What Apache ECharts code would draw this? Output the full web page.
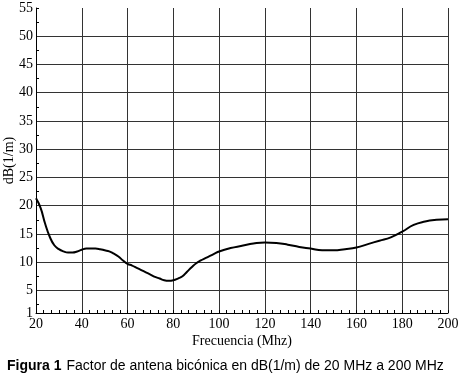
<!DOCTYPE html>
<html>
<head>
<meta charset="utf-8">
<script src="https://cdn.jsdelivr.net/npm/echarts@6/dist/echarts.min.js"></script>
<style>
  html, body { margin: 0; padding: 0; background: #fff; }
  #chart { width: 464px; height: 380px; }
</style>
</head>
<body>
<div id="chart"></div>
<script>
// Frequency (MHz) and antenna factor dB(1/m)
const freq = [20, 22, 24, 26, 28, 30, 32, 34, 36, 38, 40, 42, 44, 46, 48, 50, 52, 54, 56, 58,
  60, 62, 64, 66, 68, 70, 72, 74, 76, 78, 80, 82, 84, 86, 88, 90, 92, 94, 96, 98,
  100, 105, 110, 115, 120, 125, 130, 135, 140, 145, 150, 155, 160, 165, 170, 175, 180, 185, 190, 195, 200];
const factor = [21.3, 19.6, 16.8, 14.5, 13.0, 12.3, 11.9, 11.7, 11.7, 11.9, 12.2, 12.4, 12.4, 12.4, 12.3, 12.1, 11.9, 11.5, 11.0, 10.3,
  9.7, 9.4, 9.0, 8.6, 8.2, 7.8, 7.4, 7.1, 6.8, 6.7, 6.8, 7.1, 7.5, 8.3, 9.1, 9.8, 10.3, 10.7, 11.1, 11.5,
  11.9, 12.5, 12.9, 13.3, 13.5, 13.4, 13.1, 12.7, 12.4, 12.1, 12.1, 12.3, 12.6, 13.2, 13.8, 14.4, 15.4, 16.6, 17.2, 17.5, 17.6];

const yLabels = [1, 5, 10, 15, 20, 25, 30, 35, 40, 45, 50, 55];
const yGrid = [5, 10, 15, 20, 25, 30, 35, 40, 45, 50];
const yMinor = [2.5, 7.5, 12.5, 17.5, 22.5, 27.5, 32.5, 37.5, 42.5, 47.5, 52.5, 55];

const serif = '"Liberation Serif", "DejaVu Serif", serif';
const sans = '"Liberation Sans", Arial, sans-serif';
const chart = echarts.init(document.getElementById('chart'));

chart.setOption({
  animation: false,
  backgroundColor: '#fff',
  title: {
    left: 2,
    top: 352,
    text: '{b|Figura 1} {r|Factor de antena bicónica en dB(1/m) de 20 MHz a 200 MHz}',
    textStyle: {
      fontWeight: 'normal',
      rich: {
        b: { fontFamily: sans, fontWeight: 'bold', fontSize: 14, color: '#000' },
        r: { fontFamily: sans, fontWeight: 'normal', fontSize: 14, color: '#000' }
      }
    }
  },
  grid: { left: 36, right: 16, top: 8, bottom: 67, containLabel: false, outerBoundsMode: 'none' },
  xAxis: {
    type: 'value',
    min: 20,
    max: 200,
    interval: 20,
    name: 'Frecuencia (Mhz)',
    nameLocation: 'middle',
    nameGap: 21,
    nameMoveOverlap: false,
    nameTextStyle: { fontFamily: serif, fontSize: 14, color: '#000' },
    axisLine: { show: true, lineStyle: { color: '#000', width: 1 } },
    axisTick: { show: true, inside: true, length: 3, lineStyle: { color: '#000' } },
    minorTick: { show: true, splitNumber: 6, length: 3, lineStyle: { color: '#000' } },
    axisLabel: { fontFamily: serif, fontSize: 14, color: '#000', margin: 4 },
    splitLine: { show: true, lineStyle: { color: '#333', width: 1 } }
  },
  yAxis: [
    {
      type: 'value',
      min: 1,
      max: 55,
      name: 'dB(1/m)',
      nameLocation: 'middle',
      nameGap: 20,
      nameMoveOverlap: false,
      nameRotate: 90,
      nameTextStyle: { fontFamily: serif, fontSize: 14, color: '#000' },
      axisLine: { show: true, lineStyle: { color: '#000', width: 1 } },
      axisTick: { show: false, customValues: yGrid },
      axisLabel: { customValues: yLabels, fontFamily: serif, fontSize: 14, color: '#000', margin: 3 },
      splitLine: { show: true, lineStyle: { color: '#333', width: 1 } }
    },
    {
      type: 'value',
      min: 1,
      max: 55,
      position: 'left',
      offset: 0,
      axisLine: { show: false },
      axisTick: { show: true, inside: true, length: 3, customValues: yMinor, lineStyle: { color: '#000' } },
      axisLabel: { show: false },
      splitLine: { show: false }
    }
  ],
  series: [{
    type: 'line',
    data: freq.map((f, i) => [f, factor[i]]),
    smooth: true,
    showSymbol: false,
    lineStyle: { color: '#000', width: 2 }
  }]
});
</script>
</body>
</html>
